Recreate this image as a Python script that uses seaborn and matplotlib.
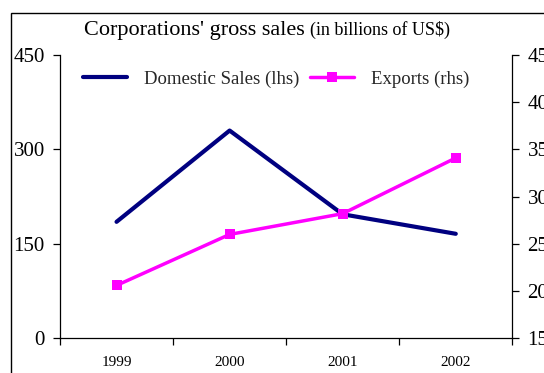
import matplotlib
matplotlib.use("Agg")
import matplotlib.pyplot as plt
from matplotlib.patches import Rectangle
from matplotlib.ticker import FixedLocator, NullFormatter
import seaborn as sns
import pandas as pd

years = ["1999", "2000", "2001", "2002"]
domestic_sales = [185, 330, 197, 166]
exports = [20.6, 26.0, 28.2, 34.1]
left_ticks = [0, 150, 300, 450]
right_ticks = [15, 20, 25, 30, 35, 40, 45]

sns.set_theme(style="white")
plt.rcParams["font.family"] = ["Liberation Serif", "DejaVu Serif"]

W, H = 544, 373
fig = plt.figure(figsize=(W / 100, H / 100), dpi=100)
ax = fig.add_axes([60 / W, 1 - 338.3 / H, (512.3 - 60) / W, (338.3 - 55) / H])
ax2 = ax.twinx()

df = pd.DataFrame({"year": years, "pos": range(len(years)),
                   "domestic": domestic_sales, "exports": exports})

sns.lineplot(data=df, x="pos", y="domestic", ax=ax, color="#000080",
             linewidth=3, label="Domestic Sales (lhs)", legend=False)
sns.lineplot(data=df, x="pos", y="exports", ax=ax2, color="#FF00FF",
             linewidth=2.5, marker="s", markersize=7, markeredgewidth=0,
             label="Exports (rhs)", legend=False)

ax.set_xlim(-0.5, len(years) - 0.5)
ax.set_ylim(0, 450)
ax2.set_ylim(15, 45)
ax.set_yticks(left_ticks)
ax2.set_yticks(right_ticks)
ax.set_xticks(range(len(years)))
ax.set_xticklabels(years)
ax.xaxis.set_minor_locator(FixedLocator([i - 0.5 for i in range(len(years) + 1)]))
ax.xaxis.set_minor_formatter(NullFormatter())
ax.set_xlabel("")
ax.set_ylabel("")
ax2.set_ylabel("")

for a in (ax, ax2):
    a.spines["top"].set_visible(False)
    for s in a.spines.values():
        s.set_color("black")
        s.set_linewidth(0.9)
ax.spines["right"].set_visible(False)
ax2.spines["left"].set_visible(False)
ax2.spines["bottom"].set_visible(False)

ax.tick_params(axis="x", which="major", length=0, labelsize=11, pad=13, colors="black")
ax.tick_params(axis="x", which="minor", length=5, width=0.9, color="black", direction="out", bottom=True)
ax.tick_params(axis="y", length=5, width=0.9, color="black", direction="out", left=True,
               labelsize=15, pad=6, labelcolor="black")
ax2.tick_params(axis="y", length=5, width=0.9, color="black", direction="out", right=True,
                labelsize=15, pad=6, labelcolor="black")

# Title in two sizes
fig.text(305 / W, 1 - 34.5 / H, "Corporations' gross sales", ha="right", va="baseline",
         fontsize=16, color="black")
fig.text(310 / W, 1 - 34.5 / H, "(in billions of US$)", ha="left", va="baseline",
         fontsize=13, color="black")

# Combined legend
h1, l1 = ax.get_legend_handles_labels()
h2, l2 = ax2.get_legend_handles_labels()
fig.legend(h1 + h2, l1 + l2, loc="center", bbox_to_anchor=(276 / W, 1 - 79 / H),
           ncol=2, frameon=False, fontsize=13.5, handlelength=2.35, columnspacing=0.6,
           handletextpad=0.9)

# Outer chart frame
fig.patches.append(Rectangle((11 / W, -0.1), 1.2, 1.1 - 13 / H, transform=fig.transFigure,
                             fill=False, edgecolor="black", linewidth=1.0))

fig.savefig("out.png", dpi=100)
